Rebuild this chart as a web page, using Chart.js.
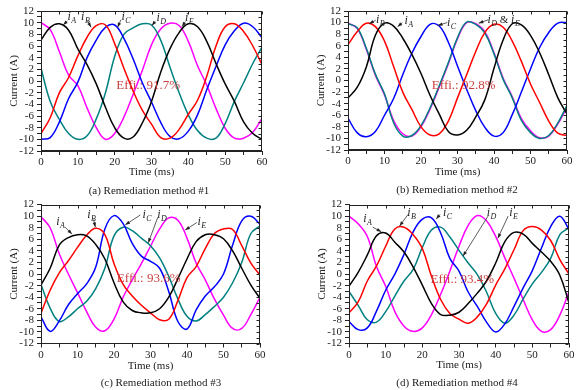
<!DOCTYPE html>
<html>
<head>
<meta charset="utf-8">
<script src="https://cdn.jsdelivr.net/npm/chart.js@4.4.0/dist/chart.umd.min.js"></script>
<style>
  html, body { margin: 0; padding: 0; background: #fff; }
  #wrap { position: relative; width: 576px; height: 390px; overflow: hidden; }
  .panel { position: absolute; width: 288px; height: 195px; }
  .cap { position: absolute; width: 288px; height: 14px; line-height: 14px; text-align: center;
         font: 11px "Liberation Serif", "Times New Roman", serif; color: #222; }
</style>
</head>
<body>
<div id="wrap">
  <div class="panel" style="left:0;top:0"><canvas id="ca" width="288" height="195"></canvas></div>
  <div class="panel" style="left:288px;top:0"><canvas id="cb" width="288" height="195"></canvas></div>
  <div class="panel" style="left:0;top:195px"><canvas id="cc" width="288" height="195"></canvas></div>
  <div class="panel" style="left:288px;top:195px"><canvas id="cd" width="288" height="195"></canvas></div>
  <div class="cap" style="left:5px;top:184px">(a) Remediation method #1</div>
  <div class="cap" style="left:313px;top:183px">(b) Remediation method #2</div>
  <div class="cap" style="left:17px;top:376px">(c) Remediation method #3</div>
  <div class="cap" style="left:313px;top:376px">(d) Remediation method #4</div>
</div>
<script>
// time axis (ms)
const time = [0, 2.5, 5, 7.5, 10, 12.5, 15, 17.5, 20, 22.5, 25, 27.5, 30, 32.5, 35, 37.5, 40, 42.5, 45, 47.5, 50, 52.5, 55, 57.5, 60];

// (a) method #1 currents (A)
const aA = [7, 9.2, 9.8, 8.7, 5.5, 2.8, -0.5, -4.5, -8, -9.8, -9.6, -7.2, -3.5, 1.5, 5.5, 8.3, 9.8, 9.3, 6.8, 3, -0.5, -3.5, -7, -9, -10];
const aB = [-9, -6.3, -2, 0.6, 4.3, 7.5, 9.5, 9.6, 6.4, 2.2, -1.7, -5, -7.4, -9.7, -9.8, -8.3, -5.7, -3.3, 0.8, 6, 9.3, 9.8, 8.5, 6, 2.8];
const aC = [-10, -9.7, -7, -3, -0.2, 4, 7, 9.2, 9.6, 7.3, 3.8, -0.3, -3.6, -7.1, -9.5, -9.9, -8.6, -5.8, -1.5, 2.5, 6.2, 8.6, 9.9, 9.3, 7.4];
const aD = [2.2, -3.5, -6.6, -9, -10, -9.4, -6.5, -2, 4.2, 8, 9.1, 9.8, 9.6, 7, 2.4, -2, -5.8, -8.5, -9.8, -9.8, -7.3, -3.5, -0.3, 3, 5.8];
const aE = [10, 8.8, 5, 1, -0.8, -4.6, -8, -10, -9, -6.2, -2.3, 1.8, 6.2, 8.9, 9.9, 9.5, 6.8, 2.6, -0.7, -4.7, -8.1, -9.8, -9.8, -8.8, -6.4];

// (b) method #2
const bA = [-3, -1.2, 2.3, 7.8, 9.9, 9.4, 7.3, 4.5, 1.2, -2.6, -5.8, -8.8, -9.4, -8.6, -6.3, -3.3, 2.1, 7, 9.8, 9.6, 7.8, 4.8, 1, -3, -5.8];
const bB = [6.2, 8.4, 9.9, 9.3, 6.8, 2.4, -2, -5, -8, -9.4, -9.2, -7, -3, 1, 5, 8.3, 9.7, 9.2, 6.8, 3.3, -0.6, -3.8, -7, -9.1, -9.5];
const bC = [-6.5, -9, -9.7, -8.8, -6, -3.1, 1, 4.7, 7.6, 9.7, 9.4, 6.6, 2.5, -1.5, -5.2, -8.1, -9.6, -9, -5.9, -2, 2, 5.7, 8.3, 9.9, 10];
const bD = [9.8, 9.1, 5.6, 1.1, -2.3, -7.3, -9.6, -9.5, -7.8, -4.7, -0.9, 3.1, 7.4, 10.1, 9.7, 8.2, 4.6, 0.2, -3, -6.9, -9, -10, -9.5, -7.3, -4.3];
const bE = [9.9, 9, 5.4, 0.9, -2.5, -6.9, -9.2, -9.6, -8, -4.9, -1.1, 2.9, 7.2, 10, 9.8, 8.4, 4.8, 0.4, -2.8, -6.6, -8.7, -9.9, -9.6, -7.5, -4.6];

// (c) method #3
const cA = [-1.9, 1, 5, 6.3, 6.8, 6.6, 5.1, 2.6, -1.5, -4.8, -6.3, -6.7, -6.7, -6, -4, -0.8, 2.6, 5.6, 6.8, 6.8, 6.1, 4, 1, -1.9, -4.2];
const cB = [-6.8, -2.8, 0.2, 2.3, 4.6, 6.7, 7.9, 6.8, 1.8, -1.8, -3.8, -5.4, -6.7, -7.9, -7.8, -4.6, -0.6, 1.3, 4.4, 7, 7.8, 7.7, 4.9, 1.9, -0.2];
const cC = [-7.4, -9.9, -8.1, -5.3, -3.4, -1.7, 1.2, 7.8, 10.1, 8.7, 5.3, 3.1, 2.2, 1, -3, -8.2, -9.5, -6.2, -3.8, -2.2, 0, 5, 9.2, 10, 8.6];
const cD = [-1.8, -5.9, -8.2, -7.4, -6, -4.7, -2.5, 1, 6.6, 8.1, 7.5, 6.2, 4.9, 2.8, -0.4, -4.3, -7.3, -8.1, -7, -5.6, -4, -1.5, 2, 7, 8.3];
const cE = [9.9, 8, 3.5, 0, -3.2, -6.5, -9.2, -9.8, -7.8, -4, -1, 1.8, 4.8, 7.8, 9.7, 9.3, 6.2, 1.9, -1, -4.3, -7.1, -9.4, -9.4, -7, -4];

// (d) method #4
const dA = [-2.1, 0.3, 3.3, 6.6, 7.1, 5.5, 3.8, 1.2, -1.9, -5.1, -7, -7.1, -6.6, -5.1, -3.3, -1.2, 1.9, 5.6, 7.2, 6.9, 5.3, 3.8, 2.2, -0.2, -5];
const dB = [-6.7, -4.8, -1.2, 1.4, 4.8, 7.8, 8.1, 6.8, 4.4, -0.4, -4.4, -6.8, -7.8, -8.5, -7.4, -5.2, -1.9, 0.9, 4.2, 7.5, 8.2, 7.6, 5.8, 2.5, 0];
const dC = [-8.2, -9.6, -9.3, -6.4, -2.8, 0, 3.4, 7.3, 9.5, 9.7, 7.1, 2.7, 0.5, -3.1, -5.6, -8.3, -10, -8.6, -5.6, -2.4, 0.6, 4.5, 8.2, 10, 7.7];
const dD = [-3, -5.4, -7.9, -8.3, -6.5, -3.8, -1.2, 0.8, 4.6, 7.6, 8.1, 6.4, 4.1, 1.9, -0.1, -3.1, -6.8, -8.5, -7.1, -4.3, -1.7, 0.3, 2.7, 6.8, 8];
const dE = [10, 8.7, 6.5, 1.3, -2.1, -6.5, -9, -9.9, -9.3, -7, -3.5, 0.5, 4.8, 8.4, 10.1, 9.2, 6.5, 2.8, -0.7, -4.4, -7.9, -9.9, -9.6, -7.1, -3];

// efficiency labels
const effiA = 'Effi.: 91.7%';
const effiB = 'Effi.: 92.8%';
const effiC = 'Effi.: 93.6%';
const effiD = 'Effi.: 93.4%';

const SERIF = '"Liberation Serif", "Times New Roman", serif';
Chart.defaults.font.family = SERIF;
Chart.defaults.color = '#222';

// iA..iE colours
const COLORS = ['#000000', '#ff0000', '#0000ff', '#008080', '#ff00ff'];

function drawLabel(ctx, cx, cy, subs) {
  // measure "i" + subscript pieces, joined by " & "
  const big = 'italic 12px ' + SERIF, small = 'italic 8px ' + SERIF, amp = '11px ' + SERIF;
  const pieces = [];
  subs.forEach((s, k) => {
    if (k > 0) pieces.push({ t: ' & ', f: amp, dy: 0 });
    pieces.push({ t: 'i', f: big, dy: 0 });
    pieces.push({ t: s, f: small, dy: 3 });
  });
  let w = 0;
  pieces.forEach(p => { ctx.font = p.f; p.w = ctx.measureText(p.t).width; w += p.w; });
  let x = cx - w / 2;
  ctx.textAlign = 'left';
  ctx.textBaseline = 'alphabetic';
  pieces.forEach(p => { ctx.font = p.f; ctx.fillText(p.t, x, cy + 4 + p.dy); x += p.w + (p.t === 'i' ? 0.5 : 0); });
}

function drawArrow(ctx, x1, y1, x2, y2) {
  ctx.beginPath();
  ctx.moveTo(x1, y1);
  ctx.lineTo(x2, y2);
  ctx.stroke();
  const ang = Math.atan2(y2 - y1, x2 - x1);
  ctx.beginPath();
  ctx.moveTo(x2, y2);
  ctx.lineTo(x2 - 5 * Math.cos(ang - 0.35), y2 - 5 * Math.sin(ang - 0.35));
  ctx.lineTo(x2 - 5 * Math.cos(ang + 0.35), y2 - 5 * Math.sin(ang + 0.35));
  ctx.closePath();
  ctx.fill();
}

const overlay = {
  id: 'overlay',
  afterDatasetsDraw(chart, args, o) {
    const { ctx, chartArea: a, scales: { x, y } } = chart;
    ctx.save();
    // box frame with inward ticks on top and right
    ctx.strokeStyle = '#222';
    ctx.lineWidth = 1;
    const L = Math.round(a.left) + 0.5, R = Math.round(a.right) - 0.5;
    const T = Math.round(a.top) + 0.5, B = Math.round(a.bottom) - 0.5;
    ctx.strokeRect(L, T, R - L, B - T);
    ctx.beginPath();
    x.ticks.forEach(t => { const px = Math.round(x.getPixelForValue(t.value)) + 0.5; ctx.moveTo(px, T); ctx.lineTo(px, T + 3); });
    y.ticks.forEach(t => { const py = Math.round(y.getPixelForValue(t.value)) + 0.5; ctx.moveTo(R, py); ctx.lineTo(R - 3, py); });
    ctx.stroke();

    // efficiency text
    ctx.fillStyle = 'rgba(200,55,55,0.95)';
    ctx.font = '13px ' + SERIF;
    ctx.textAlign = 'center';
    ctx.textBaseline = 'middle';
    ctx.fillText(o.effi.text, x.getPixelForValue(o.effi.at[0]), y.getPixelForValue(o.effi.at[1]));

    // current labels with arrows
    ctx.strokeStyle = '#333';
    ctx.fillStyle = '#222';
    ctx.lineWidth = 0.8;
    o.notes.forEach(n => {
      drawArrow(ctx, x.getPixelForValue(n.from[0]), y.getPixelForValue(n.from[1]),
                x.getPixelForValue(n.to[0]), y.getPixelForValue(n.to[1]));
      drawLabel(ctx, x.getPixelForValue(n.at[0]), y.getPixelForValue(n.at[1]), n.subs);
    });
    ctx.restore();
  }
};

function makePanel(id, series, p) {
  new Chart(document.getElementById(id), {
    type: 'line',
    data: {
      datasets: series.map((s, i) => ({
        data: s.map((v, j) => ({ x: time[j], y: v })),
        borderColor: COLORS[i],
        borderWidth: 1.5,
        pointRadius: 0,
        tension: 0.4,
        fill: false
      }))
    },
    options: {
      responsive: false,
      animation: false,
      layout: { padding: p.pad },
      plugins: {
        legend: { display: false },
        tooltip: { enabled: false },
        overlay: { effi: p.effi, notes: p.notes }
      },
      scales: {
        x: {
          type: 'linear', min: 0, max: 60,
          afterFit(s) { s.height = p.xh; },
          ticks: { stepSize: 5, autoSkip: false, maxRotation: 0, padding: 1, font: { size: 11 },
                   callback: v => (v % 10 === 0 ? v : '') },
          grid: { drawOnChartArea: false, tickLength: 4, color: '#222' },
          border: { color: '#222' },
          title: { display: true, text: 'Time (ms)', font: { size: 11 }, padding: { top: 0, bottom: p.xtp } }
        },
        y: {
          min: -12, max: 12,
          afterFit(s) { s.width = 41; },
          ticks: { stepSize: 1, autoSkip: false, padding: 3, font: { size: 11 },
                   callback: v => (v % 2 === 0 ? v : '') },
          grid: { drawOnChartArea: false, tickLength: 4, color: '#222' },
          border: { color: '#222' },
          title: { display: true, text: 'Current (A)', font: { size: 11 }, padding: { top: 8, bottom: 0 } }
        }
      }
    },
    plugins: [overlay]
  });
}

makePanel('ca', [aA, aB, aC, aD, aE], {
  pad: { left: 0, right: 26, top: 11, bottom: 0 }, xh: 44, xtp: 16,
  effi: { text: effiA, at: [29.1, -0.8] },
  notes: [
    { subs: ['A'], at: [8.3, 11.1], from: [7.2, 10.3], to: [6, 9.6] },
    { subs: ['B'], at: [12, 11.1], from: [12.6, 10.3], to: [13.6, 9.2] },
    { subs: ['C'], at: [23, 11.1], from: [21.7, 10.5], to: [20.8, 9.2] },
    { subs: ['D'], at: [32.6, 10.9], from: [31, 10.2], to: [30.1, 9.5] },
    { subs: ['E'], at: [40.2, 10.9], from: [39.2, 10.2], to: [38.3, 9.3] }
  ]
});

makePanel('cb', [bA, bB, bC, bD, bE], {
  pad: { left: 19, right: 9, top: 11, bottom: 0 }, xh: 45, xtp: 16,
  effi: { text: effiB, at: [31.7, -0.9] },
  notes: [
    { subs: ['B'], at: [8.8, 10.7], from: [7.6, 10.4], to: [5.8, 9.8] },
    { subs: ['A'], at: [16.6, 10.4], from: [14.9, 10], to: [13.6, 9.3] },
    { subs: ['C'], at: [28.3, 10.1], from: [27.2, 10], to: [24.6, 9.5] },
    { subs: ['D', 'E'], at: [42.5, 10.7], from: [38.5, 10.5], to: [35.8, 9.9] }
  ]
});

makePanel('cc', [cA, cB, cC, cD, cE], {
  pad: { left: 0, right: 28, top: 8.5, bottom: 0 }, xh: 46.5, xtp: 17,
  effi: { text: effiC, at: [29.5, -0.7] },
  notes: [
    { subs: ['A'], at: [5.3, 9.2], from: [6.6, 8.1], to: [8.5, 6.9] },
    { subs: ['B'], at: [13.8, 10.4], from: [14.4, 9.4], to: [14.9, 8.1] },
    { subs: ['C'], at: [29, 10.4], from: [27.2, 10.2], to: [23.1, 8.5] },
    { subs: ['D'], at: [33.1, 10.4], from: [32, 9.8], to: [29.4, 5.4] },
    { subs: ['E'], at: [44, 9.2], from: [42.7, 8.9], to: [39.5, 7.6] }
  ]
});

makePanel('cd', [dA, dB, dC, dD, dE], {
  pad: { left: 20, right: 7, top: 8.5, bottom: 0 }, xh: 46.5, xtp: 18,
  effi: { text: effiD, at: [30.9, -0.9] },
  notes: [
    { subs: ['A'], at: [5, 9.7], from: [6.5, 8.1], to: [8.8, 7.3] },
    { subs: ['B'], at: [17, 10.8], from: [16.1, 10.3], to: [13.8, 8.3] },
    { subs: ['C'], at: [26.8, 10.8], from: [24.8, 10.3], to: [23.8, 9.5] },
    { subs: ['D'], at: [38.8, 10.8], from: [37.9, 10], to: [31.1, 3.1] },
    { subs: ['E'], at: [44.8, 10.8], from: [43.4, 10], to: [40.6, 6.2] }
  ]
});
</script>
</body>
</html>
